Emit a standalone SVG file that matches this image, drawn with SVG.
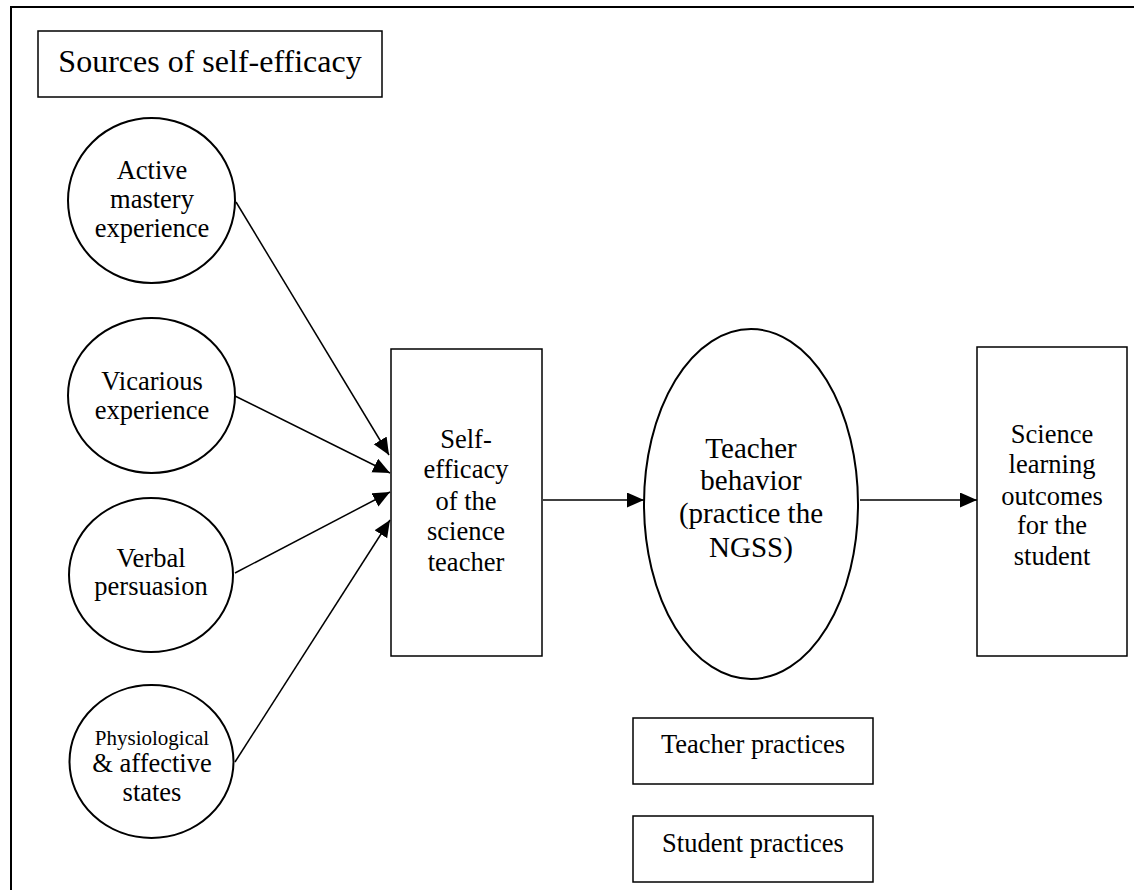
<svg xmlns="http://www.w3.org/2000/svg" width="1134" height="890" viewBox="0 0 1134 890">
  <style>
    .shape { fill: #ffffff; stroke: #000000; stroke-width: 2; }
    .box { fill: #ffffff; stroke: #000000; stroke-width: 1.5; }
    .frame { fill: none; stroke: #000000; stroke-width: 2; }
    .conn { fill: none; stroke: #000000; stroke-width: 1.5; }
    text { font-family: "Liberation Serif", "Times New Roman", serif; fill: #000000; text-anchor: middle; }
    .t26 { font-size: 26.5px; }
    .t29 { font-size: 29px; }
    .t32 { font-size: 32px; }
    .t21 { font-size: 21px; }
  </style>
  <defs>
    <marker id="arrow" markerUnits="userSpaceOnUse" markerWidth="18" markerHeight="16" refX="17" refY="7.5" orient="auto">
      <path d="M0,0 L17,7.5 L0,15 Z" fill="#000000"/>
    </marker>
  </defs>
  <rect width="1134" height="890" fill="#ffffff"/>
  <path class="frame" d="M11,900 V7 H1140"/>

  <g id="title">
    <rect class="box" x="38" y="31" width="344" height="66"/>
    <text class="t32" x="210" y="72">Sources of self-efficacy</text>
  </g>

  <g id="active-mastery">
    <ellipse class="shape" cx="151.5" cy="200.5" rx="83.5" ry="82.5"/>
    <text class="t26" x="152" y="179">Active</text>
    <text class="t26" x="152" y="208">mastery</text>
    <text class="t26" x="152" y="237">experience</text>
  </g>

  <g id="vicarious">
    <ellipse class="shape" cx="151.5" cy="395.5" rx="83.5" ry="77.5"/>
    <text class="t26" x="152" y="390">Vicarious</text>
    <text class="t26" x="152" y="419">experience</text>
  </g>

  <g id="verbal">
    <ellipse class="shape" cx="151" cy="575" rx="82" ry="77"/>
    <text class="t26" x="151" y="567">Verbal</text>
    <text class="t26" x="151" y="595">persuasion</text>
  </g>

  <g id="physiological">
    <ellipse class="shape" cx="151.5" cy="761.5" rx="82" ry="76.5"/>
    <text class="t21" x="152" y="745">Physiological</text>
    <text class="t26" x="152" y="772">&amp; affective</text>
    <text class="t26" x="152" y="801">states</text>
  </g>

  <g id="self-efficacy">
    <rect class="box" x="391" y="349" width="151" height="307"/>
    <text class="t26" x="466" y="448">Self-</text>
    <text class="t26" x="466" y="478">efficacy</text>
    <text class="t26" x="466" y="510">of the</text>
    <text class="t26" x="466" y="540">science</text>
    <text class="t26" x="466" y="571">teacher</text>
  </g>

  <g id="teacher-behavior">
    <ellipse class="shape" cx="751" cy="504" rx="107" ry="175"/>
    <text class="t29" x="751" y="458">Teacher</text>
    <text class="t29" x="751" y="490">behavior</text>
    <text class="t29" x="751" y="523">(practice the</text>
    <text class="t29" x="751" y="557">NGSS)</text>
  </g>

  <g id="outcomes">
    <rect class="box" x="977" y="347" width="150" height="309"/>
    <text class="t26" x="1052" y="443">Science</text>
    <text class="t26" x="1052" y="473">learning</text>
    <text class="t26" x="1052" y="505">outcomes</text>
    <text class="t26" x="1052" y="534">for the</text>
    <text class="t26" x="1052" y="565">student</text>
  </g>

  <g id="teacher-practices">
    <rect class="box" x="633" y="718" width="240" height="66"/>
    <text class="t26" x="753" y="753">Teacher practices</text>
  </g>

  <g id="student-practices">
    <rect class="box" x="633" y="816" width="240" height="66"/>
    <text class="t26" x="753" y="852">Student practices</text>
  </g>

  <g id="connectors">
    <line class="conn" x1="236" y1="202" x2="389" y2="455" marker-end="url(#arrow)"/>
    <line class="conn" x1="235" y1="396" x2="390" y2="473" marker-end="url(#arrow)"/>
    <line class="conn" x1="235" y1="573" x2="390" y2="492" marker-end="url(#arrow)"/>
    <line class="conn" x1="235" y1="762" x2="390" y2="520" marker-end="url(#arrow)"/>
    <line class="conn" x1="543" y1="500" x2="644" y2="500" marker-end="url(#arrow)"/>
    <line class="conn" x1="860" y1="500" x2="977" y2="500" marker-end="url(#arrow)"/>
  </g>
</svg>
